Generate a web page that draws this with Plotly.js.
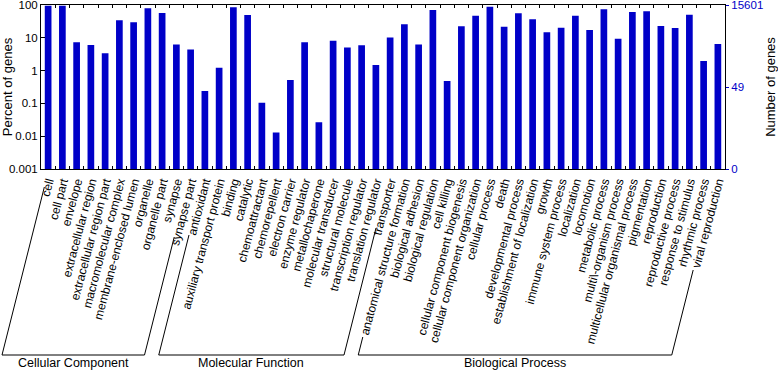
<!DOCTYPE html>
<html>
<head>
<meta charset="utf-8">
<script src="https://cdn.plot.ly/plotly-3.0.1.min.js"></script>
<style>html,body{margin:0;padding:0;background:#fff}#chart{width:778px;height:373px}</style>
</head>
<body>
<div id="chart"></div>
<script>
// ---- data ----
var categories = [
  "cell","cell part","envelope","extracellular region","extracellular region part",
  "macromolecular complex","membrane-enclosed lumen","organelle","organelle part",
  "synapse","synapse part",
  "antioxidant","auxiliary transport protein","binding","catalytic","chemoattractant",
  "chemorepellent","electron carrier","enzyme regulator","metallochaperone",
  "molecular transducer","structural molecule","transcription regulator",
  "translation regulator","transporter",
  "anatomical structure formation","biological adhesion","biological regulation",
  "cell killing","cellular component biogenesis","cellular component organization",
  "cellular process","death","developmental process","establishment of localization",
  "growth","immune system process","localization","locomotion","metabolic process",
  "multi\\-organism process","multicellular organismal process","pigmentation",
  "reproduction","reproductive process","response to stimulus","rhythmic process",
  "viral reproduction"
];
var percentGenes = [
  95, 95, 7.3, 6.0, 3.4, 34, 29.6, 79, 57, 6.3, 4.4,
  0.24, 1.22, 85, 49.5, 0.105, 0.013, 0.52, 7.3, 0.0265, 8.2, 5.1, 5.9, 1.48, 10.3,
  25.7, 6.3, 70, 0.48, 22.4, 47, 89, 21.8, 55.7, 36.6, 14.7, 20.4, 47, 17.3, 74,
  9.4, 61, 64, 22.9, 19.9, 50.7, 1.96, 6.5
];
var groupNames = ["Cellular Component", "Molecular Function", "Biological Process"];
var groupFirst = [0, 11, 25];
var groupLast  = [10, 24, 47];
var totalGenes = 15601;
var rightTickCounts = [0, 49, 15601];
var leftTickVals = [0.001, 0.01, 0.1, 1, 10, 100];
var leftTickText = ["0.001", "0.01", "0.1", "1", "10", "100"];

// ---- layout geometry ----
var W = 778, H = 373;
var M = {l: 41, r: 53, t: 5, b: 204};
var pw = W - M.l - M.r, ph = H - M.t - M.b;
var step = pw / categories.length;
var FONT = "Liberation Sans, Arial, Helvetica, sans-serif";
var blue = "#0000c8";

function px2x(px) { return (px - M.l) / pw; }
function py2y(py) { return (M.t + ph - py) / ph; }
function catPx(i) { return M.l + (i + 0.5) * step; }

// bracket geometry (pixel layout)
var slope = 0.252;
var labelTopPy = 172;
var bracketPy = 355;
var lineTopLeft  = [187, 235, 337];
var lineTopRight = [237, 228, 270];

var shapes = [], annotations = [];
for (var g = 0; g < groupNames.length; g++) {
  var xl = catPx(groupFirst[g]), xr = catPx(groupLast[g]);
  var blx = xl - (bracketPy - labelTopPy) * slope;
  var brx = xr - (bracketPy - labelTopPy) * slope;
  var tlx = xl - (lineTopLeft[g] - labelTopPy) * slope;
  var trx = xr - (lineTopRight[g] - labelTopPy) * slope;
  var path = "M" + px2x(tlx) + "," + py2y(lineTopLeft[g]) +
             " L" + px2x(blx) + "," + py2y(bracketPy) +
             " L" + px2x(brx) + "," + py2y(bracketPy) +
             " L" + px2x(trx) + "," + py2y(lineTopRight[g]);
  shapes.push({type: "path", xref: "paper", yref: "paper", path: path,
               line: {color: "#000", width: 1}});
  annotations.push({xref: "paper", yref: "paper", x: px2x((blx + brx) / 2), y: py2y(363),
                    text: groupNames[g], showarrow: false, xanchor: "center", yanchor: "middle",
                    font: {family: FONT, size: 12.5, color: "#000"}});
}

var rightTickVals = rightTickCounts.map(function (c) {
  return c === 0 ? leftTickVals[0] : c / totalGenes * 100;
});

var trace = {
  type: "bar",
  x: categories,
  y: percentGenes,
  marker: {color: blue, line: {width: 0}},
  hoverinfo: "x+y"
};

var layout = {
  width: W, height: H,
  margin: M,
  paper_bgcolor: "#fff", plot_bgcolor: "#fff",
  showlegend: false,
  bargap: 0.53,
  font: {family: FONT, size: 11, color: "#000"},
  xaxis: {
    type: "category",
    tickangle: -75,
    tickfont: {family: FONT, size: 12, color: "#000"},
    ticks: "inside", ticklen: 3, tickcolor: "#000", tickwidth: 1,
    tickson: "boundaries",
    showline: true, linecolor: "#000", linewidth: 1, mirror: "ticks",
    showgrid: false, zeroline: false, range: [-0.5, categories.length - 0.5],
    ticklabeloverflow: "allow"
  },
  yaxis: {
    type: "log",
    range: [-3, 2],
    tickvals: leftTickVals, ticktext: leftTickText,
    tickfont: {family: FONT, size: 11.5, color: "#000"},
    ticks: "inside", ticklen: 4, tickcolor: "#000",
    showline: true, linecolor: "#000", linewidth: 1, mirror: true,
    showgrid: false, zeroline: false,
    ticklabeloverflow: "allow",
    title: {text: "Percent of genes", font: {family: FONT, size: 13, color: "#000"}, standoff: 4}
  },
  yaxis2: {
    type: "log",
    overlaying: "y", side: "right",
    range: [-3, 2],
    tickvals: rightTickVals, ticktext: rightTickCounts.map(String),
    tickfont: {family: FONT, size: 11.5, color: blue},
    ticks: "outside", ticklen: 3, tickcolor: blue,
    showline: false, showgrid: false, zeroline: false,
    ticklabeloverflow: "allow",
    title: {text: "Number of genes", font: {family: FONT, size: 13, color: "#000"}, standoff: 10}
  },
  shapes: shapes,
  annotations: annotations
};

Plotly.newPlot("chart", [trace, {type: "bar", x: [], y: [], yaxis: "y2", showlegend: false}], layout, {displayModeBar: false, staticPlot: true});
</script>
</body>
</html>
